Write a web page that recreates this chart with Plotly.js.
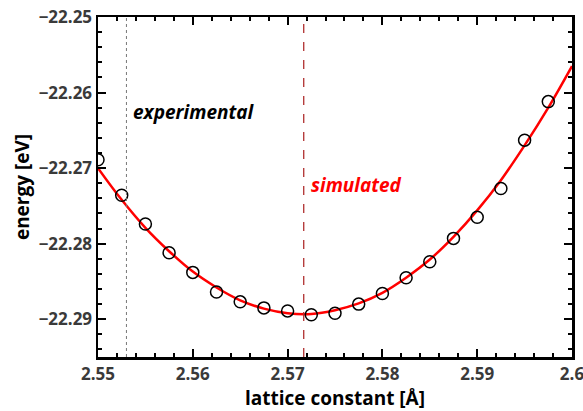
<!DOCTYPE html>
<html>
<head>
<meta charset="utf-8">
<script src="https://cdn.plot.ly/plotly-3.0.1.min.js"></script>
<style>html,body{margin:0;padding:0;background:#fff}#plot{width:583px;height:411px}</style>
</head>
<body>
<div id="plot"></div>
<script>
// Data points (lattice constant [Å], energy [eV])
var latticeData = [2.55, 2.5525, 2.555, 2.5575, 2.56, 2.5625, 2.565, 2.5675, 2.57, 2.5725,
                   2.575, 2.5775, 2.58, 2.5825, 2.585, 2.5875, 2.59, 2.5925, 2.595, 2.5975];
var energyData = [-22.2689, -22.2736, -22.2774, -22.2812, -22.2838, -22.2864, -22.2877, -22.2885, -22.2889, -22.2894,
                  -22.2892, -22.2880, -22.2866, -22.2845, -22.2824, -22.2793, -22.2765, -22.2727, -22.2663, -22.2612];
// Fitted curve
var latticeFit = [2.55, 2.5525, 2.555, 2.5575, 2.56, 2.5625, 2.565, 2.5675, 2.57, 2.5725, 2.575,
                  2.5775, 2.58, 2.5825, 2.585, 2.5875, 2.59, 2.5925, 2.595, 2.5975, 2.6];
var energyFit = [-22.2700, -22.2742, -22.2779, -22.2810, -22.2837, -22.2858, -22.2875, -22.2886, -22.2892, -22.2893, -22.2888,
                 -22.2879, -22.2865, -22.2845, -22.2821, -22.2791, -22.2756, -22.2716, -22.2670, -22.2620, -22.2565];
var experimentalA = 2.553;
var simulatedA = 2.5717;
var yRange = [-22.295, -22.25];
var xRange = [2.55, 2.6];
var xTickVals = [2.55, 2.56, 2.57, 2.58, 2.59, 2.6];
var xTickText = ['2.55', '2.56', '2.57', '2.58', '2.59', '2.6'];
var yTickVals = [-22.29, -22.28, -22.27, -22.26, -22.25];
var yTickText = ['\u221222.29', '\u221222.28', '\u221222.27', '\u221222.26', '\u221222.25'];

function bold(arr) { return arr.map(function (t) { return '<b>' + t + '</b>'; }); }

var traces = [
  {x: latticeFit, y: energyFit, mode: 'lines', line: {color: '#ff0000', width: 2.5, shape: 'spline'}, hoverinfo: 'skip'},
  {x: latticeData, y: energyData, mode: 'markers', marker: {symbol: 'circle-open', size: 12, color: '#000', line: {width: 1.5, color: '#000'}}},
  {x: [experimentalA, experimentalA], y: yRange, mode: 'lines', line: {color: '#777', width: 1, dash: 'dot'}},
  {x: [simulatedA, simulatedA], y: yRange, mode: 'lines', line: {color: '#b03030', width: 1.3, dash: 'dash'}}
];

var tickFont = {family: 'Open Sans, sans-serif', size: 17, color: '#3a3a3a'};
var titleFont = {family: 'Open Sans, sans-serif', size: 19, color: '#000'};
var axisCommon = {
  showgrid: false, zeroline: false, showline: true, linecolor: '#000', linewidth: 2.5,
  mirror: 'allticks', ticks: 'inside', ticklen: 8, tickwidth: 2, tickcolor: '#000',
  tickfont: tickFont, ticklabeloverflow: 'allow'
};

var layout = {
  width: 583, height: 411,
  margin: {l: 98, r: 11, t: 17, b: 54},
  showlegend: false,
  paper_bgcolor: '#fff', plot_bgcolor: '#fff',
  xaxis: Object.assign({}, axisCommon, {
    range: xRange, tickmode: 'array', tickvals: xTickVals, ticktext: bold(xTickText),
    minor: {dtick: 0.002, tick0: 2.55, ticks: 'inside', ticklen: 4, tickwidth: 2, tickcolor: '#000'},
    title: {text: '<b>lattice constant [Å]</b>', font: titleFont, standoff: 8}
  }),
  yaxis: Object.assign({}, axisCommon, {
    range: yRange, tickmode: 'array', tickvals: yTickVals, ticktext: bold(yTickText),
    minor: {dtick: 0.002, tick0: -22.25, ticks: 'inside', ticklen: 4, tickwidth: 2, tickcolor: '#000'},
    title: {text: '<b>energy [eV]</b>', font: titleFont, standoff: 4}
  }),
  annotations: [
    {x: 2.5535, y: -22.2626, xref: 'x', yref: 'y', xanchor: 'left', yanchor: 'middle', showarrow: false,
     text: '<b><i>experimental</i></b>', font: {family: 'Open Sans, sans-serif', size: 19, color: '#000'}},
    {x: 2.5723, y: -22.2723, xref: 'x', yref: 'y', xanchor: 'left', yanchor: 'middle', showarrow: false,
     text: '<b><i>simulated</i></b>', font: {family: 'Open Sans, sans-serif', size: 19, color: '#ff0000'}}
  ]
};

Plotly.newPlot('plot', traces, layout, {displayModeBar: false, staticPlot: true});
</script>
</body>
</html>
